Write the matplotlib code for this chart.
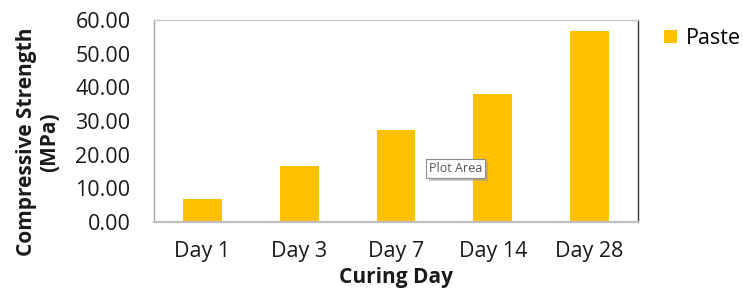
import matplotlib
matplotlib.use("Agg")
import matplotlib.pyplot as plt
from matplotlib.patches import Rectangle
import numpy as np

categories = ["Day 1", "Day 3", "Day 7", "Day 14", "Day 28"]
paste = [6.7, 16.7, 27.3, 37.9, 56.8]
yticks = [0, 10, 20, 30, 40, 50, 60]

plt.rcParams['font.family'] = ['Open Sans', 'DejaVu Sans']

W, H = 743, 296
fig = plt.figure(figsize=(W/100, H/100), dpi=100)
ax = fig.add_axes([154/W, 1-222/H, (638-154)/W, (222-20)/H])

x = np.arange(len(categories))
ax.bar(x, paste, width=0.4, color="#FFC000", label="Paste", zorder=2)
ax.set_xlim(-0.5, len(categories)-0.5)
ax.set_ylim(0, 60)
ax.set_yticks(yticks)
ax.set_yticklabels([f"{v:.2f}" for v in yticks], fontsize=15.5)
ax.set_xticks(x)
ax.set_xticklabels(categories, fontsize=15.5)
ax.tick_params(axis='both', length=0, colors="#1a1a1a")
ax.tick_params(axis='y', pad=17)
ax.tick_params(axis='x', pad=14)

ax.spines['left'].set_color("#a6a6a6")
ax.spines['top'].set_color("#c8c8c8")
ax.spines['right'].set_color("#333333")
ax.spines['bottom'].set_color("#bfbfbf")
ax.spines['bottom'].set_linewidth(1.6)
for s in ['left', 'top', 'right']:
    ax.spines[s].set_linewidth(1.0)

fig.text(396/W, 1-277/H, "Curing Day", ha="center", va="center",
         fontsize=15, fontweight="bold", color="#1a1a1a")
fig.text(38/W, 1-142/H, "Compressive Strength\n(MPa)", ha="center", va="center",
         rotation=90, fontsize=15, fontweight="bold", color="#1a1a1a",
         linespacing=1.1)

leg = fig.legend(loc="upper left", bbox_to_anchor=(664/W, 1-28/H), frameon=False,
                 fontsize=15.5, handlelength=0.6, handleheight=0.6, handletextpad=0.4,
                 borderpad=0, borderaxespad=0)

# "Plot Area" tooltip drawn in figure pixel coordinates, with a soft shadow
bx0, bx1, by0, by1 = 426, 485, 159, 178
fig.add_artist(Rectangle(((bx0+3)/W, 1-(by1+3)/H), (bx1-bx0)/W, (by1-by0)/H,
                         transform=fig.transFigure, fc="#a0a0a0", ec="none", alpha=0.6))
fig.add_artist(Rectangle((bx0/W, 1-by1/H), (bx1-bx0)/W, (by1-by0)/H,
                         transform=fig.transFigure, fc="white", ec="#8c8c8c", lw=0.8))
fig.text((bx0+bx1)/2/W, 1-(by0+by1)/2/H, "Plot Area", fontsize=9, color="#555555",
         ha="center", va="center")

fig.savefig("out.png", dpi=100)
